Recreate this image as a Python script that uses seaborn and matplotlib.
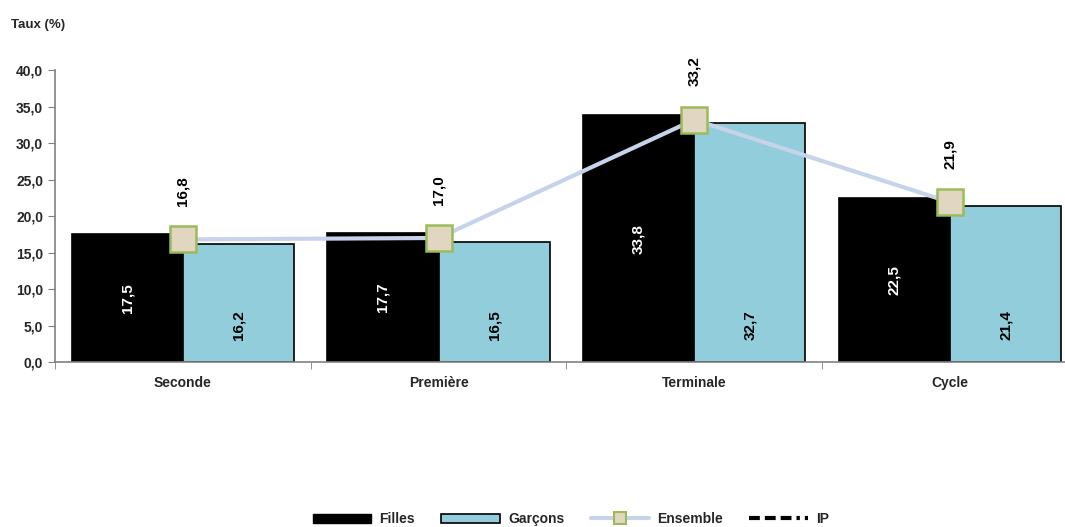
import pandas as pd
import numpy as np
import matplotlib.pyplot as plt
import seaborn as sns
from matplotlib.lines import Line2D
from matplotlib.patches import Patch

# Données
niveaux = ['Seconde', 'Première', 'Terminale', 'Cycle']
filles = [17.5, 17.7, 33.8, 22.5]
garcons = [16.2, 16.5, 32.7, 21.4]
ensemble = [16.8, 17.0, 33.2, 21.9]

def fr(v):
    return f"{v:.1f}".replace('.', ',')

sns.set_style('white')
plt.rcParams['font.family'] = ['Liberation Sans Narrow', 'Liberation Sans', 'DejaVu Sans']

df = pd.DataFrame({
    'niveau': niveaux * 2,
    'taux': filles + garcons,
    'sexe': ['Filles'] * 4 + ['Garçons'] * 4,
})

fig = plt.figure(figsize=(10.65, 5.27), dpi=100)
ax = fig.add_axes([0.0516, 0.313, 0.9484, 0.554])

couleurs = {'Filles': '#000000', 'Garçons': '#92cddc'}
sns.barplot(data=df, x='niveau', y='taux', hue='sexe', palette=couleurs, saturation=1,
            width=0.87, edgecolor='black', linewidth=1.2, legend=False, ax=ax)

sns.lineplot(x=niveaux, y=ensemble, color='#c6d3ea', linewidth=3, marker='s',
             markersize=19, markerfacecolor='#e0d6c2', markeredgecolor='#9bbb59',
             markeredgewidth=1.8, sort=False, ax=ax, zorder=5)

# Étiquettes
for i in range(len(niveaux)):
    ax.text(i - 0.2175, filles[i] / 2, fr(filles[i]), rotation=90, color='white',
            fontsize=11, fontweight='bold', ha='center', va='center')
    ax.text(i + 0.2175, 5.0, fr(garcons[i]), rotation=90, color='black',
            fontsize=11, fontweight='bold', ha='center', va='center')
    ax.text(i, ensemble[i] + 6.6, fr(ensemble[i]), rotation=90, color='black',
            fontsize=11, fontweight='bold', ha='center', va='center', zorder=6)

ax.set_yticks(np.arange(0, 40.1, 5))
ax.set_yticklabels([fr(v) for v in np.arange(0, 40.1, 5)], fontsize=10, fontweight='bold')
ax.set_xticks(range(4))
ax.set_xticklabels(niveaux, fontsize=10, fontweight='bold')
ax.set_xticks(np.arange(-0.5, 3.0, 1), minor=True)
ax.set_ylim(0, 40)
ax.set_xlim(-0.5, 3.45)
ax.tick_params(axis='x', which='major', length=0, pad=10)
ax.tick_params(axis='x', which='minor', length=5, color='#808080', direction='out', bottom=True)
ax.tick_params(axis='y', length=5, color='#808080', direction='out', left=True)
ax.set_xlabel('')
ax.set_ylabel('')
for s in ['top', 'right']:
    ax.spines[s].set_visible(False)
for s in ['left', 'bottom']:
    ax.spines[s].set_color('#808080')
    ax.spines[s].set_linewidth(1.2)

fig.text(0.01, 0.952, 'Taux (%)', fontsize=9.5, fontweight='bold', ha='left', va='center')

poignees = [
    Patch(facecolor='black', edgecolor='black'),
    Patch(facecolor='#92cddc', edgecolor='black', linewidth=1.2),
    Line2D([0], [0], color='#c6d3ea', linewidth=3, marker='s', markersize=9,
           markerfacecolor='#e0d6c2', markeredgecolor='#9bbb59', markeredgewidth=1.5),
    Line2D([0], [0], color='black', linewidth=3, dash_capstyle='butt',
           linestyle=(0, (2.6, 1.2, 2.6, 1.2, 2.6, 1.2, 0.8, 1.2))),
]
leg = fig.legend(poignees, ['Filles', 'Garçons', 'Ensemble', 'IP'], loc='lower center',
                 bbox_to_anchor=(0.536, -0.022), ncol=4, frameon=False, fontsize=10,
                 handlelength=4.2, handleheight=0.6, columnspacing=1.9, handletextpad=0.6)
for t in leg.get_texts():
    t.set_fontweight('bold')

fig.savefig('out.png', dpi=100)
